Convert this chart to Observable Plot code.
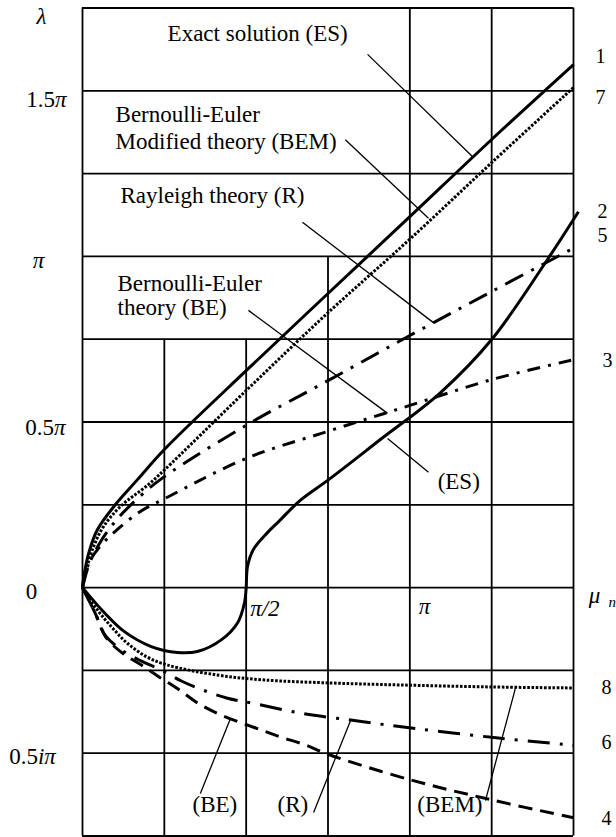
<!DOCTYPE html>
<html><head><meta charset="utf-8">
<script src="https://cdn.jsdelivr.net/npm/d3@7"></script>
<script src="https://cdn.jsdelivr.net/npm/@observablehq/plot@0.6"></script>
<style>html,body{margin:0;padding:0;background:#fff;overflow:hidden}svg{overflow:hidden}
svg text, svg tspan{font-family:"Liberation Serif","DejaVu Serif",serif !important;}</style>
</head><body><div id="chart"></div>
<script>
// mu and lambda in units of pi
const mu1 = [0, 0.006, 0.019, 0.045, 0.1, 0.168, 0.25, 0.5, 0.75, 1.0, 1.25, 1.5];
const lam1 = [0, 0.044, 0.104, 0.174, 0.25, 0.326, 0.417, 0.655, 0.888, 1.12, 1.353, 1.579];
const mu7 = [0, 0.009, 0.034, 0.064, 0.116, 0.2, 0.25, 0.5, 0.75, 1.0, 1.25, 1.5];
const lam7 = [0, 0.045, 0.124, 0.184, 0.245, 0.31, 0.355, 0.595, 0.83, 1.052, 1.283, 1.51];
const mu5 = [0, 0.02, 0.05, 0.1, 0.175, 0.25, 0.5, 0.75, 1.0, 1.25, 1.5];
const lam5 = [0, 0.07, 0.13, 0.2, 0.275, 0.335, 0.49, 0.625, 0.761, 0.894, 1.025];
const mu3 = [0, 0.02, 0.05, 0.1, 0.177, 0.25, 0.5, 0.75, 1.0, 1.25, 1.5];
const lam3 = [0, 0.075, 0.12, 0.17, 0.23, 0.268, 0.39, 0.472, 0.55, 0.628, 0.688];
const mu2 = [0, 0.067, 0.128, 0.21, 0.29, 0.351, 0.425, 0.474, 0.495, 0.5, 0.504, 0.522, 0.565, 0.6, 0.666, 0.752, 0.91, 1.094, 1.25, 1.42, 1.515];
const lam2 = [0, -0.076, -0.133, -0.178, -0.196, -0.193, -0.157, -0.106, -0.045, 0, 0.063, 0.115, 0.166, 0.2, 0.264, 0.326, 0.447, 0.589, 0.749, 0.99, 1.135];
const mu8 = [0, 0.009, 0.046, 0.089, 0.137, 0.198, 0.26, 0.412, 0.556, 0.758, 0.97, 1.25, 1.5];
const lam8 = [0, -0.015, -0.068, -0.119, -0.168, -0.21, -0.234, -0.264, -0.279, -0.288, -0.294, -0.3, -0.303];
const mu6 = [0, 0.04, 0.07, 0.122, 0.18, 0.235, 0.302, 0.367, 0.443, 0.52, 0.666, 0.819, 0.956, 1.25, 1.5];
const lam6 = [0, -0.08, -0.145, -0.19, -0.222, -0.246, -0.282, -0.309, -0.334, -0.349, -0.379, -0.4, -0.418, -0.452, -0.476];
const mu4 = [0, 0.04, 0.07, 0.122, 0.18, 0.241, 0.296, 0.351, 0.422, 0.529, 0.605, 0.681, 0.752, 1.0, 1.25, 1.5];
const lam4 = [0, -0.08, -0.148, -0.198, -0.234, -0.274, -0.309, -0.348, -0.384, -0.424, -0.451, -0.475, -0.504, -0.58, -0.641, -0.695];

const seriesIds = ["1", "7", "5", "3", "2", "8", "6", "4"];
const seriesMu = [mu1, mu7, mu5, mu3, mu2, mu8, mu6, mu4];
const seriesLam = [lam1, lam7, lam5, lam3, lam2, lam8, lam6, lam4];

// grid
const hLines = [-0.75, -0.5, -0.25, 0, 0.25, 0.5, 0.75, 1, 1.25, 1.5, 1.75];
const vLines = [0, 0.25, 0.5, 0.75, 1, 1.25, 1.5];
const vTops = [1.75, 0.75, 0.75, 1, 1.75, 1.75, 1.75];

// tick labels
const yTickValues = [1.5, 1, 0.5, 0, -0.5];
const yTickLabels = ["1.5π", "π", "0.5π", "0", "0.5iπ"];
const xTickValues = [0.5, 1];
const xTickLabels = ["π/2", "π"];

// curve numbers at right
const rightLabels = ["1", "7", "2", "5", "3", "8", "6", "4"];
const rightLabelLam = [1.585, 1.459, 1.117, 1.042, 0.665, -0.32, -0.486, -0.718];

// annotation texts
const noteTexts = ["Exact solution (ES)", "Bernoulli-Euler", "Modified theory (BEM)", "Rayleigh theory (R)", "Bernoulli-Euler", "theory (BE)", "(ES)", "(BE)", "(R)", "(BEM)"];
const noteMu = [0.26, 0.101, 0.101, 0.116, 0.107, 0.107, 1.085, 0.336, 0.596, 1.023];
const noteLam = [1.649, 1.406, 1.325, 1.160, 0.897, 0.822, 0.299, -0.679, -0.679, -0.679];

// leader lines
const ptrMu1 = [0.871, 0.803, 0.672, 0.507, 1.057, 0.360, 0.706, 1.231];
const ptrLam1 = [1.610, 1.352, 1.103, 0.837, 0.348, -0.622, -0.679, -0.643];
const ptrMu2 = [1.195, 1.057, 1.072, 0.932, 0.932, 0.452, 0.819, 1.323];
const ptrLam2 = [1.298, 1.115, 0.800, 0.526, 0.450, -0.395, -0.401, -0.302];

// styles (not data)
const styles = {
  "1": {w: 3, dash: null},
  "2": {w: 3, dash: null},
  "7": {w: 3, dash: "2.6,1.6"},
  "8": {w: 3, dash: "2.6,1.6"},
  "5": {w: 3, dash: "20,9,3,9"},
  "6": {w: 3, dash: "22,10,3,10"},
  "3": {w: 3, dash: "13,8,3,8"},
  "4": {w: 3, dash: "14,8"}
};
const yTickLayout = [{dx: -36, dy: 16.3}, {dx: -44, dy: 11.7}, {dx: -37, dy: 13}, {dx: -51, dy: 11}, {dx: -50, dy: 10.3}];
const xTickLayout = [{dx: 4, dy: 28}, {dx: 9, dy: 26}];
const rightDx = [27, 27, 29, 29, 34, 33, 33, 33];

const FONT = "'Liberation Serif', 'DejaVu Serif', serif";

const curveMarks = seriesIds.map((id, k) => {
  const data = seriesMu[k].map((m, i) => ({mu: m, lam: seriesLam[k][i]}));
  const s = styles[id];
  const opts = {x: "mu", y: "lam", curve: "catmull-rom", stroke: "black", strokeWidth: s.w, strokeLinecap: "butt"};
  if (s.dash) opts.strokeDasharray = s.dash;
  return Plot.line(data, opts);
});

const vData = vLines.map((v, i) => ({mu: v, top: vTops[i]}));
const notes = noteTexts.map((t, i) => ({t, mu: noteMu[i], lam: noteLam[i]}));
const ptrs = ptrMu1.map((m, i) => ({x1: m, y1: ptrLam1[i], x2: ptrMu2[i], y2: ptrLam2[i]}));

const yTickMarks = yTickValues.map((v, i) => Plot.text([v], {
  x: () => 0, y: d => d, text: () => yTickLabels[i], textAnchor: "middle", lineAnchor: "bottom",
  dx: yTickLayout[i].dx, dy: yTickLayout[i].dy, fontSize: 23, fontFamily: FONT, fill: "black"
}));
const xTickMarks = xTickValues.map((v, i) => Plot.text([v], {
  x: d => d, y: () => 0, text: () => xTickLabels[i], textAnchor: "start", lineAnchor: "bottom",
  dx: xTickLayout[i].dx, dy: xTickLayout[i].dy, fontSize: 23, fontFamily: FONT, fill: "black"
}));
const rightMarks = rightLabels.map((t, i) => Plot.text([t], {
  x: () => 1.5, y: () => rightLabelLam[i], text: d => d, textAnchor: "middle", lineAnchor: "bottom",
  dx: rightDx[i], fontSize: 20, fontFamily: FONT, fill: "black"
}));

const svg = Plot.plot({
  width: 616, height: 837,
  marginLeft: 82, marginRight: 43, marginTop: 7.5, marginBottom: 1.5,
  x: {domain: [0, 1.5], axis: null},
  y: {domain: [-0.75, 1.75], axis: null},
  style: {fontFamily: FONT, background: "white", color: "black"},
  marks: [
    Plot.ruleY(hLines, {y: d => d, stroke: "black", strokeWidth: 1.8}),
    Plot.ruleX(vData, {x: "mu", y1: () => -0.75, y2: "top", stroke: "black", strokeWidth: 1.8}),
    ...curveMarks,
    Plot.link(ptrs, {x1: "x1", y1: "y1", x2: "x2", y2: "y2", stroke: "black", strokeWidth: 1.3}),
    Plot.text(notes, {x: "mu", y: "lam", text: "t", textAnchor: "start", lineAnchor: "bottom", fontSize: 23, fontFamily: FONT, fill: "black"}),
    ...yTickMarks,
    ...xTickMarks,
    ...rightMarks,
    Plot.text(["λ"], {x: () => 0, y: () => 1.75, text: d => d, textAnchor: "middle", lineAnchor: "bottom", dx: -41, dy: 15.5, fontSize: 23, fontFamily: FONT, fill: "black"}),
    Plot.text(["μ"], {x: () => 1.5, y: () => 0, text: d => d, textAnchor: "middle", lineAnchor: "bottom", dx: 21, dy: 15, fontSize: 23, fontFamily: FONT, fill: "black"}),
    Plot.text(["n"], {x: () => 1.5, y: () => 0, text: d => d, textAnchor: "start", lineAnchor: "bottom", dx: 35, dy: 19, fontSize: 15, fontFamily: FONT, fill: "black"})
  ]
});

// italicize math symbols in tick labels
const mathSet = new Set([...yTickLabels, ...xTickLabels, "λ", "μ", "n"]);
svg.querySelectorAll("text").forEach(node => {
  const s = node.textContent;
  if (!mathSet.has(s)) return;
  node.textContent = "";
  for (const ch of s) {
    const ts = document.createElementNS("http://www.w3.org/2000/svg", "tspan");
    ts.textContent = ch;
    if ("πλμin/2".includes(ch)) ts.setAttribute("font-style", "italic");
    node.appendChild(ts);
  }
});

document.getElementById("chart").appendChild(svg);
</script></body></html>
